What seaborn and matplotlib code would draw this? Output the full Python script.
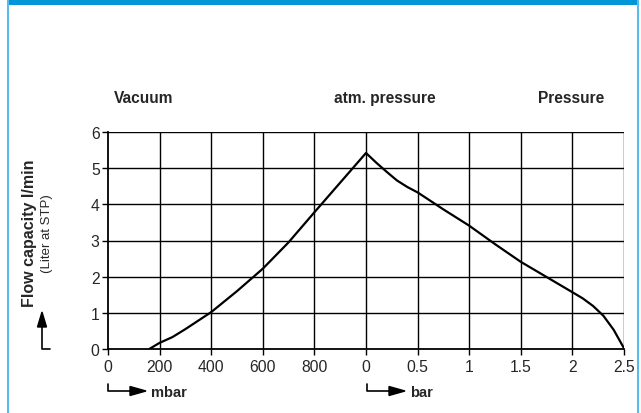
import numpy as np
import pandas as pd
import matplotlib
matplotlib.use("Agg")
import matplotlib.pyplot as plt
import seaborn as sns
from matplotlib.lines import Line2D
from matplotlib.patches import Rectangle

# --- data ---
vac_mbar = [160, 200, 250, 300, 400, 500, 600, 700, 800, 900, 1000]
vac_flow = [0.0, 0.17, 0.33, 0.55, 1.02, 1.6, 2.22, 2.95, 3.78, 4.6, 5.42]
pr_bar = [0.0, 0.1, 0.2, 0.3, 0.4, 0.5, 0.75, 1.0, 1.25, 1.5, 1.75, 2.0, 2.1, 2.2, 2.3, 2.4, 2.5]
pr_flow = [5.42, 5.15, 4.9, 4.66, 4.48, 4.33, 3.86, 3.41, 2.9, 2.41, 1.99, 1.57, 1.4, 1.19, 0.92, 0.53, 0.02]

tick_labels = ["0", "200", "400", "600", "800", "0", "0.5", "1", "1.5", "2", "2.5"]
y_ticks = [0, 1, 2, 3, 4, 5, 6]

# combined x scale: mbar part 0..1000 -> 0..5, bar part 0..2.5 -> 5..10
df = pd.DataFrame({
    "pos": [m / 200 for m in vac_mbar] + [5 + b * 2 for b in pr_bar[1:]],
    "flow": vac_flow + pr_flow[1:],
})

sns.set_style("white")
plt.rcParams["font.family"] = ["Liberation Sans", "DejaVu Sans"]

W, H = 641, 414
fig = plt.figure(figsize=(W / 100, H / 100), dpi=100)
ax = fig.add_axes([108 / W, 1 - 350 / H, (624 - 108) / W, (350 - 133) / H])

sns.lineplot(data=df, x="pos", y="flow", ax=ax, color="black", lw=1.6, sort=False)

ax.set_xlim(0, 10)
ax.set_ylim(0, 6)
ax.set_xticks(range(11))
ax.set_xticklabels(tick_labels)
ax.set_yticks(y_ticks)
ax.tick_params(axis="both", direction="out", length=4, width=1, color="black",
               labelsize=11.3, bottom=True, left=True)
ax.tick_params(axis="x", pad=3)
ax.tick_params(axis="y", pad=2)
ax.grid(True, color="black", lw=1.0)
ax.xaxis.get_gridlines()[0].set_visible(False)
ax.yaxis.get_gridlines()[0].set_visible(False)
for s in ["top", "right"]:
    ax.spines[s].set_visible(False)
for s in ["left", "bottom"]:
    ax.spines[s].set_color("black")
    ax.spines[s].set_linewidth(1.3)
ax.set_xlabel("")
ax.set_ylabel("")

# headings above the plot
fig.text(144 / W, 1 - 99 / H, "Vacuum", ha="center", va="center", fontsize=11.2, fontweight="bold")
fig.text(385 / W, 1 - 99 / H, "atm. pressure", ha="center", va="center", fontsize=11.2, fontweight="bold")
fig.text(571 / W, 1 - 99 / H, "Pressure", ha="center", va="center", fontsize=11.2, fontweight="bold")

# y label
fig.text(30 / W, 1 - 233 / H, "Flow capacity l/min", rotation=90, ha="center", va="center",
         fontsize=11.5, fontweight="bold")
fig.text(47 / W, 1 - 234 / H, "(Liter at STP)", rotation=90, ha="center", va="center", fontsize=9.5)


def fx(x):
    return x / W


def fy(y):
    return 1 - y / H


# upward arrow next to y label
fig.add_artist(Line2D([fx(50), fx(42), fx(42)], [fy(350), fy(350), fy(326)],
                      transform=fig.transFigure, color="black", lw=1.2))
fig.add_artist(plt.Polygon([[fx(37.5), fy(328)], [fx(46.5), fy(328)], [fx(42), fy(313)]],
                           closed=True, transform=fig.transFigure, color="black"))

# unit arrows below the axis
for x0, unit in [(108, "mbar"), (367, "bar")]:
    fig.add_artist(Line2D([fx(x0), fx(x0), fx(x0 + 24)], [fy(385), fy(392), fy(392)],
                          transform=fig.transFigure, color="black", lw=1.2))
    fig.add_artist(plt.Polygon([[fx(x0 + 22), fy(387.5)], [fx(x0 + 22), fy(396.5)], [fx(x0 + 38), fy(392)]],
                               closed=True, transform=fig.transFigure, color="black"))
    fig.text(fx(x0 + 43), fy(393), unit, ha="left", va="center", fontsize=10.5, fontweight="bold")

# frame: blue top bar and light blue side borders
fig.add_artist(Rectangle((fx(7), fy(6)), fx(631), 6 / H, transform=fig.transFigure,
                         color="#0096d8", lw=0))
fig.add_artist(Line2D([fx(7.5), fx(7.5)], [0, 1], transform=fig.transFigure, color="#5bbbe9", lw=1.5))
fig.add_artist(Line2D([fx(638), fx(638)], [0, 1], transform=fig.transFigure, color="#5bbbe9", lw=1.5))

fig.savefig("out.png", dpi=100)
